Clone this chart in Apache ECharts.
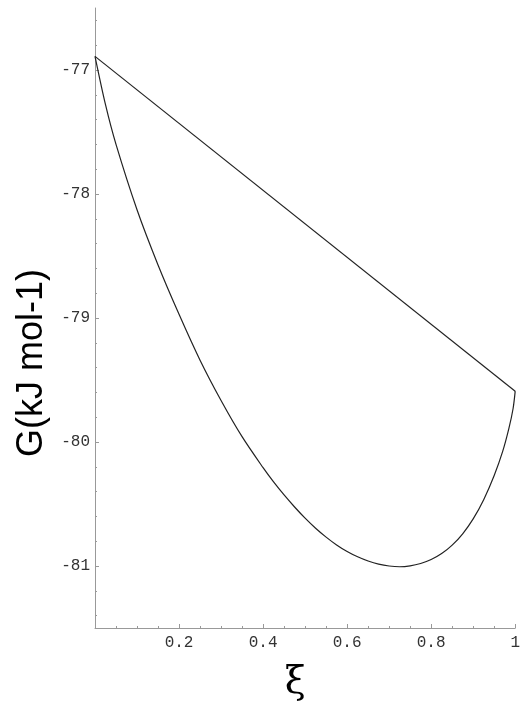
<!DOCTYPE html>
<html>
<head>
<meta charset="utf-8">
<script src="https://cdn.jsdelivr.net/npm/echarts@6/dist/echarts.min.js"></script>
<style>
  html, body { margin: 0; padding: 0; background: #fff; }
  #chart { width: 523px; height: 708px; }
</style>
</head>
<body>
<div id="chart"></div>
<script>
// 曲线 G(ξ) 读数
const curveXi = [0, 0.025, 0.05, 0.1, 0.15, 0.2, 0.25, 0.3, 0.35, 0.4,
  0.425, 0.45, 0.475, 0.5, 0.525, 0.55, 0.575, 0.6, 0.625, 0.65,
  0.675, 0.7, 0.725, 0.75, 0.775, 0.8, 0.825, 0.85, 0.875, 0.9,
  0.925, 0.95, 0.97, 0.985, 0.995, 1];
const curveG = [-76.89, -77.28, -77.60, -78.127, -78.572, -78.97, -79.34, -79.665, -79.957, -80.207,
  -80.322, -80.427, -80.524, -80.614, -80.695, -80.767, -80.830, -80.883, -80.926, -80.960,
  -80.985, -81.0, -81.006, -80.999, -80.98, -80.948, -80.90, -80.832, -80.74, -80.62,
  -80.465, -80.27, -80.078, -79.89, -79.73, -79.59];

// 直线两端
const lineXi = [0, 1];
const lineG = [-76.89, -79.59];

// 刻度
const yMajorTicks = [-81, -80, -79, -78, -77];
const yMinorTicks = [-81.4, -81.2, -80.8, -80.6, -80.4, -80.2, -79.8, -79.6, -79.4, -79.2,
  -78.8, -78.6, -78.4, -78.2, -77.8, -77.6, -77.4, -77.2, -76.8, -76.6];
const xLabels = ['', '0.2', '0.4', '0.6', '0.8', '1'];

const chartDom = document.getElementById('chart');
const chart = echarts.init(chartDom);

const axisGray = '#999';
const tickFont = { fontFamily: 'Liberation Mono', fontSize: 16, color: '#333' };

const option = {
  animation: false,
  grid: { left: 95, right: 1, top: 8, bottom: 80 },
  xAxis: {
    type: 'value',
    min: 0,
    max: 1,
    interval: 0.2,
    name: 'ξ',
    nameLocation: 'middle',
    nameGap: 36,
    nameTextStyle: { fontFamily: 'DejaVu Serif', fontSize: 38, color: '#000', padding: [0, 20, 0, 0] },
    axisLine: { lineStyle: { color: axisGray, width: 1 } },
    axisTick: { inside: true, length: 4, lineStyle: { color: axisGray } },
    minorTick: { show: true, splitNumber: 4, length: 2, lineStyle: { color: axisGray } },
    splitLine: { show: false },
    axisLabel: Object.assign({
      margin: 7,
      formatter: function (v) { return xLabels[Math.round(v / 0.2)] || ''; }
    }, tickFont)
  },
  yAxis: [{
    type: 'value',
    min: -81.5,
    max: -76.5,
    name: 'G(kJ mol-1)',
    nameLocation: 'middle',
    nameGap: 45,
    nameRotate: 90,
    nameTextStyle: { fontFamily: 'Liberation Sans', fontSize: 36, color: '#000', padding: [0, 90, 0, 0] },
    axisLine: { show: true, lineStyle: { color: axisGray, width: 1 } },
    axisTick: { show: true, inside: true, length: 4, customValues: yMajorTicks, lineStyle: { color: axisGray } },
    splitLine: { show: false },
    axisLabel: Object.assign({ margin: 5, customValues: yMajorTicks }, tickFont)
  }, {
    // 次刻度
    type: 'value',
    position: 'left',
    min: -81.5,
    max: -76.5,
    axisLine: { show: false },
    axisTick: { show: true, inside: true, length: 2, customValues: yMinorTicks, lineStyle: { color: axisGray } },
    splitLine: { show: false },
    axisLabel: { show: false }
  }],
  series: [{
    type: 'line',
    yAxisIndex: 0,
    data: lineXi.map((x, i) => [x, lineG[i]]),
    showSymbol: false,
    lineStyle: { color: '#222', width: 1.2 }
  }, {
    type: 'line',
    yAxisIndex: 0,
    data: curveXi.map((x, i) => [x, curveG[i]]),
    showSymbol: false,
    smooth: 0.3,
    lineStyle: { color: '#222', width: 1.2 }
  }]
};

chart.setOption(option);
</script>
</body>
</html>
